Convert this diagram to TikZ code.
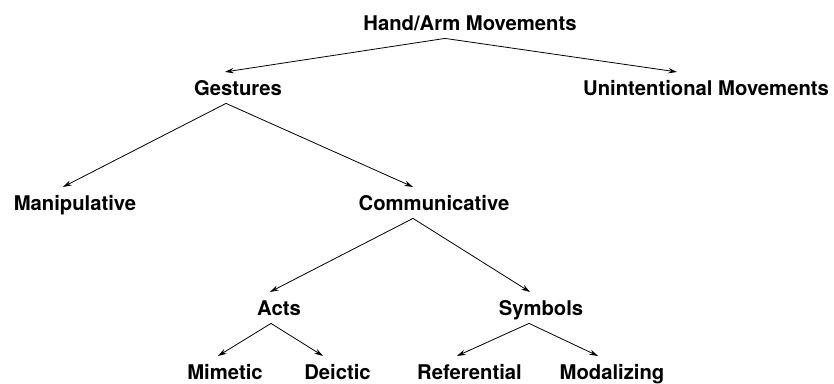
\documentclass[tikz,border=0pt]{standalone}
\usepackage{fontspec}
\setmainfont{TeX Gyre Heros}
\usetikzlibrary{arrows.meta,calc}

\tikzset{every picture/.style={line width=0.6pt}}
\tikzset{
	lbl/.style={anchor=base, inner sep=0pt, text height=17pt, text depth=6pt, font=\fontsize{15.2}{18}\selectfont\bfseries},
	arr/.style={-{Stealth[length=6.5pt,width=4pt]}}
}

\begin{document}
\begin{tikzpicture}[x=0.75pt,y=0.75pt,yscale=-1,xscale=1]
	\useasboundingbox (0,0) rectangle (834,383); %set diagram to 834 by 383

	% Text Node
	\node [lbl] (hand) at (470,30) {Hand/Arm Movements};
	% Text Node
	\node [lbl] (gest) at (238,95) {Gestures};
	% Text Node
	\node [lbl] (unint) at (706,95) {Unintentional Movements};
	% Text Node
	\node [lbl] (manip) at (75,210) {Manipulative};
	% Text Node
	\node [lbl] (comm) at (434,210) {Communicative};
	% Text Node
	\node [lbl] (acts) at (279,315) {Acts};
	% Text Node
	\node [lbl] (symb) at (541,315) {Symbols};
	% Text Node
	\node [lbl] (mim) at (225,379) {Mimetic};
	% Text Node
	\node [lbl] (deic) at (337.5,379) {Deictic};
	% Text Node
	\node [lbl] (ref) at (469.5,379) {Referential};
	% Text Node
	\node [lbl] (modal) at (612,379) {Modalizing};

	%Fork points
	\coordinate (handfork) at ($(hand.south)+(-25,0)$);
	\coordinate (gestfork) at ($(gest.south)+(-12,0)$);
	\coordinate (commfork) at ($(comm.south)+(-21,0)$);
	\coordinate (actsfork) at ($(acts.south)+(-8,0)$);
	\coordinate (symbfork) at ($(symb.south)+(-12,0)$);

	%Straight Lines
	\draw [arr] (handfork) -- ($(gest.north)+(-13,0)$);
	\draw [arr] (handfork) -- ($(unint.north)+(-29,0)$);
	%Straight Lines
	\draw [arr] (gestfork) -- ($(manip.north)+(-12,0)$);
	\draw [arr] (gestfork) -- ($(comm.north)+(-21,0)$);
	%Straight Lines
	\draw [arr] (commfork) -- ($(acts.north)+(-9,0)$);
	\draw [arr] (commfork) -- ($(symb.north)+(-11,0)$);
	%Straight Lines
	\draw [arr] (actsfork) -- ($(mim.north)+(-7,0)$);
	\draw [arr] (actsfork) -- ($(deic.north)+(-14.5,0)$);
	%Straight Lines
	\draw [arr] (symbfork) -- ($(ref.north)+(-12.5,0)$);
	\draw [arr] (symbfork) -- ($(modal.north)+(-14,0)$);

\end{tikzpicture}
\end{document}
